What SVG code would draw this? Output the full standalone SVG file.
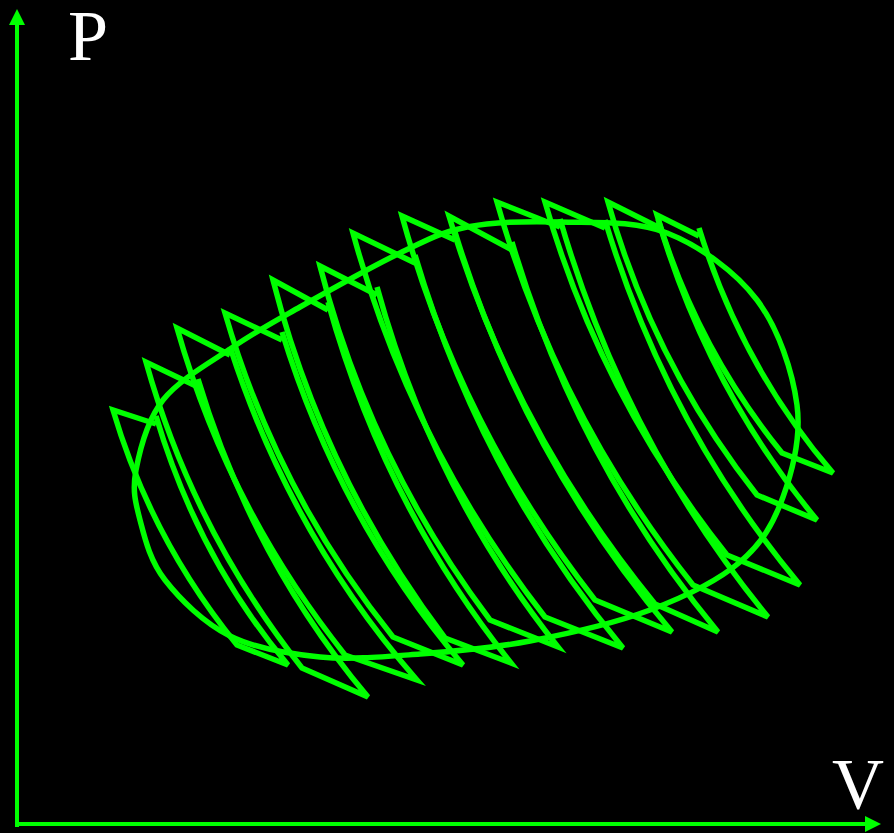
<svg xmlns="http://www.w3.org/2000/svg" width="894" height="833" viewBox="0 0 894 833">
<style>
.ax{stroke:#00ff00;stroke-width:4;fill:none}
.ah{fill:#00ff00}
.cy{stroke:#00ff00;stroke-width:5.5;fill:none}
.lb{font-family:"Liberation Serif","Times New Roman",serif;font-size:72px;fill:#ffffff}
</style>
<rect width="894" height="833" fill="#000000"/>
<g id="axes">
<line class="ax" x1="17" y1="827" x2="17" y2="24"/>
<polygon class="ah" points="17,9 25,25 9,25"/>
<line class="ax" x1="15" y1="824" x2="866" y2="824"/>
<polygon class="ah" points="881,824 865,816 865,832"/>
</g>
<g id="label-P"><text class="lb" x="68" y="60">P</text></g>
<g id="label-V"><text class="lb" x="832" y="808">V</text></g>
<g id="cycle-ellipse">
<path class="cy" d="M467,227 C493.7,221.8 526.7,221 560,222 C593.3,223 634.2,220 667,233 C699.8,246 735.3,271.3 757,300 C778.7,328.7 792.7,372.2 797,405 C801.3,437.8 792.5,470.8 783,497 C773.5,523.2 762.2,543.2 740,562 C717.8,580.8 685,596.8 650,610 C615,623.2 568.3,633.7 530,641 C491.7,648.3 455,651.3 420,654 C385,656.7 351.7,660 320,657 C288.3,654 255.8,648.8 230,636 C204.2,623.2 180,599.3 165,580 C150,560.7 144.8,538.3 140,520 C135.2,501.7 132.2,490 136,470 C139.8,450 146.8,420.5 163,400 C179.2,379.5 210.2,362.5 233,347 C255.8,331.5 272.2,322.7 300,307 C327.8,291.3 372.2,266.3 400,253 C427.8,239.7 440.3,232.2 467,227 Z"/>
</g>
<g id="carnot-cycles">
<path id="c1" class="cy" d="M156,416 Q197.9,557.7 288,665 L237,645 Q151.5,539.9 113,410 L156,424"/>
<path id="c2" class="cy" d="M198,379 Q252,559 368,697 L302,668 Q193.4,530.6 146,362 L198,387"/>
<path id="c3" class="cy" d="M230,347 Q291,536.2 417,680 L345,655 Q228.3,508.3 177,328 L230,355"/>
<path id="c4" class="cy" d="M282,332 Q340,520.6 463,665 L393,637 Q276.6,491.8 225,313 L282,340"/>
<path id="c5" class="cy" d="M328,302 Q384.2,504.8 511,663 L445,638 Q323.2,476.2 273,280 L328,310"/>
<path id="c6" class="cy" d="M377,287 Q432.3,489.1 558,647 L490,620 Q369.6,460 320,266 L377,295"/>
<path id="c7" class="cy" d="M415,255 Q480.5,476.3 623,648 L545,617 Q410.6,444.2 353,233 L415,263"/>
<path id="c8" class="cy" d="M455,232 Q524.3,457.7 672,632 L595,600 Q460.1,427.3 402,216 L455,240"/>
<path id="c9" class="cy" d="M512,242 Q576.8,461.6 718,632 L655,604 Q513.2,430.6 449,216 L512,250"/>
<path id="c10" class="cy" d="M560,219 Q625,442.8 768,617 L693,585 Q556.7,413.1 497,202 L560,227"/>
<path id="c11" class="cy" d="M605,220 Q666.8,426 800,585 L727,555 Q600.7,396.7 545,202 L605,228"/>
<path id="c12" class="cy" d="M658,219 Q708.2,389.4 817,520 L757,495 Q653.2,363.4 608,202 L658,227"/>
<path id="c13" class="cy" d="M699,228 Q742.3,367.9 833,473 L782,453 Q695.7,346.5 657,215 L699,236"/>
</g>
</svg>
